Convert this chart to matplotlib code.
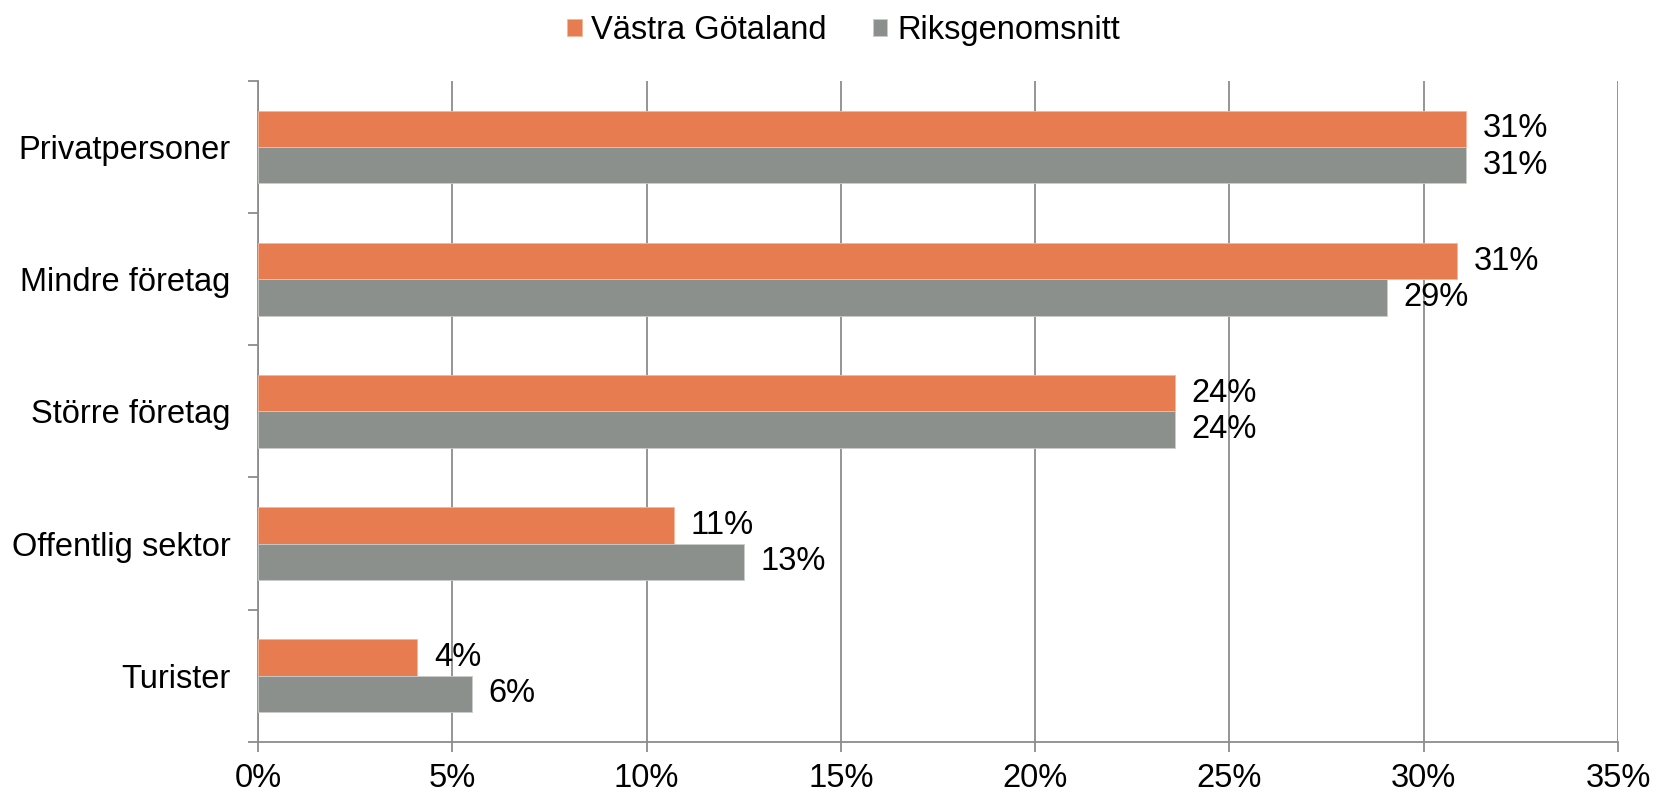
import matplotlib.pyplot as plt
import numpy as np
from matplotlib.ticker import FixedLocator, PercentFormatter

categories = ['Privatpersoner', 'Mindre företag', 'Större företag',
              'Offentlig sektor', 'Turister']
vastra = [31.1, 30.85, 23.6, 10.7, 4.1]
riks = [31.1, 29.05, 23.6, 12.5, 5.5]
labels_vastra = ['31%', '31%', '24%', '11%', '4%']
labels_riks = ['31%', '29%', '24%', '13%', '6%']

orange = '#E67C50'
grey = '#8B908D'
axis_grey = '#8C8C8C'

plt.rcParams['font.family'] = ['Liberation Sans', 'DejaVu Sans']
fs = 23.5

fig = plt.figure(figsize=(16.67, 7.93), dpi=100)
ax = fig.add_axes([0.1548, 0.0646, 0.9706 - 0.1548, 0.8979 - 0.0646])

y = np.arange(len(categories))
h = 0.275
b1 = ax.barh(y - h / 2, vastra, height=h, color=orange, edgecolor='#F2B89C',
             linewidth=0.6, label='Västra Götaland', zorder=3)
b2 = ax.barh(y + h / 2, riks, height=h, color=grey, edgecolor='#C9CCCA',
             linewidth=0.6, label='Riksgenomsnitt', zorder=3)

for bars, labs in ((b1, labels_vastra), (b2, labels_riks)):
    for rect, lab in zip(bars, labs):
        ax.annotate(lab, (rect.get_width(), rect.get_y() + rect.get_height() / 2),
                    xytext=(12, 0), textcoords='offset points',
                    va='center', ha='left', fontsize=fs)

ax.set_xlim(0, 35)
ax.set_ylim(len(categories) - 0.5, -0.5)
ax.set_xticks(np.arange(0, 36, 5))
ax.xaxis.set_major_formatter(PercentFormatter(decimals=0))
ax.set_yticks(y)
ax.set_yticklabels(categories)
ax.yaxis.set_minor_locator(FixedLocator(np.arange(-0.5, len(categories), 1)))

ax.grid(axis='x', color=axis_grey, linewidth=1.3, zorder=0)
ax.set_axisbelow(True)
for side in ('top', 'right'):
    ax.spines[side].set_visible(False)
for side in ('left', 'bottom'):
    ax.spines[side].set_color(axis_grey)
    ax.spines[side].set_linewidth(1.3)

ax.tick_params(axis='x', length=7.2, width=1.3, color=axis_grey, pad=8,
               labelsize=fs)
ax.tick_params(axis='y', which='major', length=0, pad=20, labelsize=fs)
ax.tick_params(axis='y', which='minor', length=7.2, width=1.3, color=axis_grey)

fig.legend(handles=[b1, b2], loc='upper center', bbox_to_anchor=(0.506, 1.018),
           ncol=2, frameon=False, fontsize=fs, handlelength=0.45,
           handleheight=0.45, handletextpad=0.3, columnspacing=1.4)

fig.savefig('out.png', dpi=100)
